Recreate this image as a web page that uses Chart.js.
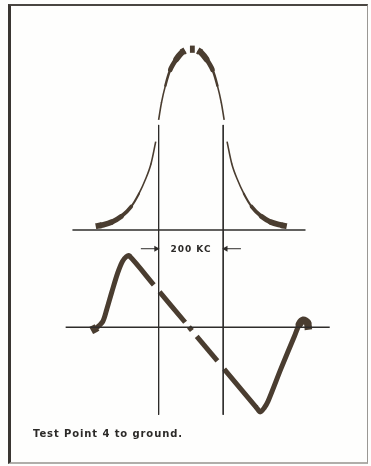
<!DOCTYPE html>
<html>
<head>
<meta charset="utf-8">
<script src="https://cdn.jsdelivr.net/npm/chart.js@4/dist/chart.umd.min.js"></script>
<style>
  html, body { margin: 0; padding: 0; background: #fefefd; }
  #wrap { position: relative; width: 371px; height: 466px; overflow: hidden; }
  #frame {
    position: absolute; left: 8px; top: 4px; width: 356px; height: 456px;
    border-left: 3px solid #3a3632; border-top: 2px solid #4a4642;
    border-right: 1px solid #9a9894; border-bottom: 2px solid #b0aeaa;
  }
  canvas { position: absolute; left: 0; top: 0; }
  .lbl { position: absolute; font-family: "DejaVu Sans", sans-serif; font-weight: bold; color: #2c2a28; white-space: nowrap; }
  #kc { left: 191px; top: 249px; transform: translate(-50%, -50%); font-size: 9px; letter-spacing: 1px; }
  #cap { left: 33px; top: 428px; font-size: 10px; letter-spacing: 0.9px; }
</style>
</head>
<body>
<div id="wrap">
  <div id="frame"></div>
  <canvas id="scope" width="371" height="466"></canvas>
  <div class="lbl" id="kc">200 KC</div>
  <div class="lbl" id="cap">Test Point 4 to ground.</div>
</div>
<script>
// Frecuencia relativa en KC (marcas a ±100 KC = 200 KC)
const markers = [-100, 100];

// Curva de respuesta (arriba), amplitud relativa; null = hueco del trazo
const bellKc = [-295, -276, -246, -215, -185, -161, -139, -124, -109, -105,
  -100, -91, -79, -64, -45, -27, -18, -12,
  -3, 12, 15,
  21, 30, 48, 67, 82, 94, 103, 107,
  112, 127, 142, 164, 188, 218, 248, 279, 297];
const bellY = [0.021, 0.027, 0.043, 0.075, 0.128, 0.198, 0.283, 0.358, 0.481, null,
  0.599, 0.695, 0.786, 0.872, 0.930, 0.968, 0.977, null,
  0.984, 0.984, null,
  0.977, 0.968, 0.930, 0.872, 0.786, 0.695, 0.599, null,
  0.481, 0.358, 0.283, 0.198, 0.128, 0.075, 0.043, 0.027, 0.021];

// Curva S del discriminador (abajo)
const sKc = [-309, -291, -273, -261, -245, -227, -212, -200, -191, -115, -106,
  -97, -18, -12,
  -6, 3, 10,
  18, 82, 92,
  103, 203, 215, 227, 239, 279, 321, 336, 348, 361, 364];
const sY = [-0.04, 0.0, 0.075, 0.225, 0.45, 0.69, 0.84, 0.90, 0.91, 0.54, null,
  0.45, 0.065, null,
  0.005, -0.04, null,
  -0.114, -0.426, null,
  -0.53, -1.02, -1.075, -1.025, -0.94, -0.525, -0.11, 0.04, 0.09, 0.06, -0.03];

// Líneas de referencia
const topBase = [-367, 355];
const botBase = [-388, 430];
const markerSpan = [0.572, -1.005];   // en unidades de la curva superior
const arrowY = 1.0;                   // en unidades de la curva S
const arrowFrom = [-155, 155];

const ink = '#4a3d30';
const thin = '#2e2c2a';

function pts(xs, ys) {
  return xs.map((x, i) => ({ x: x, y: ys[i] }));
}

// extremos y bordes de hueco rectos, uniones internas redondas (sin costuras)
function capFor(ys) {
  return ctx => {
    const a = ctx.p0DataIndex, b = ctx.p1DataIndex;
    const edge = a === 0 || b === ys.length - 1 || ys[a - 1] === null || ys[b + 1] === null;
    return edge ? 'butt' : 'round';
  };
}

function bellWidth(ctx) {
  const v = (ctx.p0.parsed.y + ctx.p1.parsed.y) / 2;
  return 1.6 + 5 * Math.max(0, 1 - v / 0.18) + 5.5 * Math.max(0, (v - 0.8) / 0.18);
}
function sWidth(ctx) {
  const x = (ctx.p0.parsed.x + ctx.p1.parsed.x) / 2;
  if (x < -285) return 8;
  if (x > 330) return 7.5;
  return 5;
}

const datasets = [
  { data: pts(topBase, [0, 0]), yAxisID: 'yTop', borderColor: thin, borderWidth: 1.5 },
  { data: pts(botBase, [0, 0]), yAxisID: 'yBot', borderColor: thin, borderWidth: 1.5 },
  { data: pts([markers[0], markers[0]], markerSpan), yAxisID: 'yTop', borderColor: thin, borderWidth: 1 },
  { data: pts([markers[1], markers[1]], markerSpan), yAxisID: 'yTop', borderColor: thin, borderWidth: 1 },
  { data: pts([arrowFrom[0], markers[0] - 4], [arrowY, arrowY]), yAxisID: 'yBot', borderColor: thin, borderWidth: 1 },
  { data: pts([arrowFrom[1], markers[1] + 4], [arrowY, arrowY]), yAxisID: 'yBot', borderColor: thin, borderWidth: 1 },
  { data: [{ x: markers[0] - 8, y: arrowY }], yAxisID: 'yBot', pointStyle: 'triangle', pointRadius: 3.5,
    pointRotation: 90, pointBackgroundColor: thin, pointBorderWidth: 0, showLine: false },
  { data: [{ x: markers[1] + 8, y: arrowY }], yAxisID: 'yBot', pointStyle: 'triangle', pointRadius: 3.5,
    pointRotation: -90, pointBackgroundColor: thin, pointBorderWidth: 0, showLine: false },
  { data: pts(bellKc, bellY), yAxisID: 'yTop', borderColor: ink, tension: 0.35,
    borderJoinStyle: 'round', segment: { borderWidth: bellWidth, borderCapStyle: capFor(bellY) } },
  { data: pts(sKc, sY), yAxisID: 'yBot', borderColor: ink, tension: 0.3,
    borderJoinStyle: 'round', segment: { borderWidth: sWidth, borderCapStyle: capFor(sY) } }
];

new Chart(document.getElementById('scope').getContext('2d'), {
  type: 'line',
  data: { datasets: datasets },
  options: {
    responsive: false,
    animation: false,
    spanGaps: false,
    layout: { padding: 0 },
    elements: { point: { radius: 0 }, line: { fill: false } },
    plugins: { legend: { display: false }, tooltip: { enabled: false } },
    scales: {
      x: { type: 'linear', display: false, min: -579, max: 545.5 },
      yTop: { type: 'linear', display: false, min: -1.262, max: 1.230 },
      yBot: { type: 'linear', display: false, min: -1.7125, max: 4.1125 }
    }
  }
});
</script>
</body>
</html>
